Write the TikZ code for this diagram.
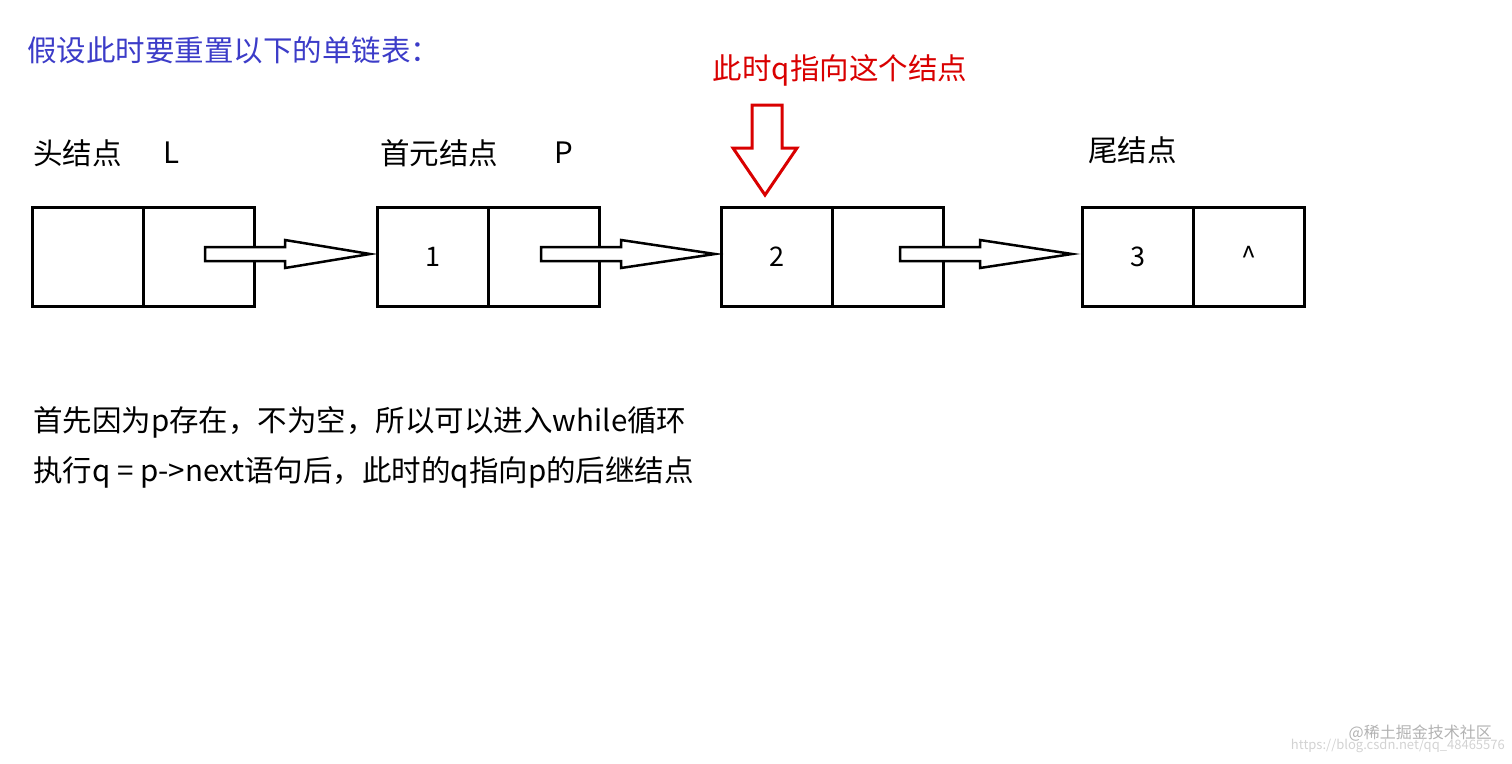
\documentclass[tikz,border=0pt]{standalone}
\usepackage{fontspec}
\setmainfont{Noto Sans CJK SC}
\definecolor{titleblue}{RGB}{60,60,200}
\begin{document}
\begin{tikzpicture}[x=1pt,y=-1pt,
  cell/.style={draw,line width=3pt,minimum width=111pt,minimum height=99pt,inner sep=0pt,font=\fontsize{27}{30}\selectfont},
  lbl/.style={anchor=west,inner sep=0pt,font=\fontsize{29.5}{34}\selectfont},
  harrow/.style={draw,line width=2.5pt,fill=white}]
\useasboundingbox (0,0) rectangle (1512,763);
\node[lbl,anchor=west,text=titleblue] (title) at (27,50) {假设此时要重置以下的单链表：};
\node[lbl,anchor=center,text=red!85!black] (qlbl) at (840,70) {此时q指向这个结点};
\node[lbl] (h1) at (33,153) {头结点};
\node[lbl] (h1b) at (163,153) {L};
\node[lbl] (h2) at (380,153) {首元结点};
\node[lbl] (h2b) at (554,153) {P};
\node[lbl] (h4) at (1088,150) {尾结点};
\foreach \n/\x/\t/\u in {a/31/{}/{}, b/376/1/{}, c/720/2/{}, d/1081/3/{\^{}}}{
  \node[cell,anchor=north west] (\n1) at (\x,205.5) {\t};
  \node[cell,anchor=north west] (\n2) at (\x+111,205.5) {\u};
}
\foreach \x/\e in {205/370, 541/715, 900/1072}{
  \draw[harrow] (\x,247) -- (\x+80,247) -- (\x+80,240) -- (\e,254) -- (\x+80,268) -- (\x+80,261) -- (\x,261) -- cycle;
}
\draw[draw=red!85!black,line width=3pt,fill=white] (752,105) -- (782,105) -- (782,148) -- (797,148) -- (765,195) -- (733,148) -- (752,148) -- cycle;
\node[lbl] (t1) at (33,422) {首先因为p存在，不为空，所以可以进入while循环};
\node[lbl] (t2) at (33,472) {执行q = p->next语句后，此时的q指向p的后继结点};
\node[anchor=east,inner sep=0pt,text=gray!60,font=\fontsize{16}{18}\selectfont] (wm1) at (1492,733) {@稀土掘金技术社区};
\node[anchor=east,inner sep=0pt,text=gray!35,font=\fontsize{13}{16}\selectfont] (wm2) at (1505,746) {https://blog.csdn.net/qq\_48465576};
\end{tikzpicture}
\end{document}
